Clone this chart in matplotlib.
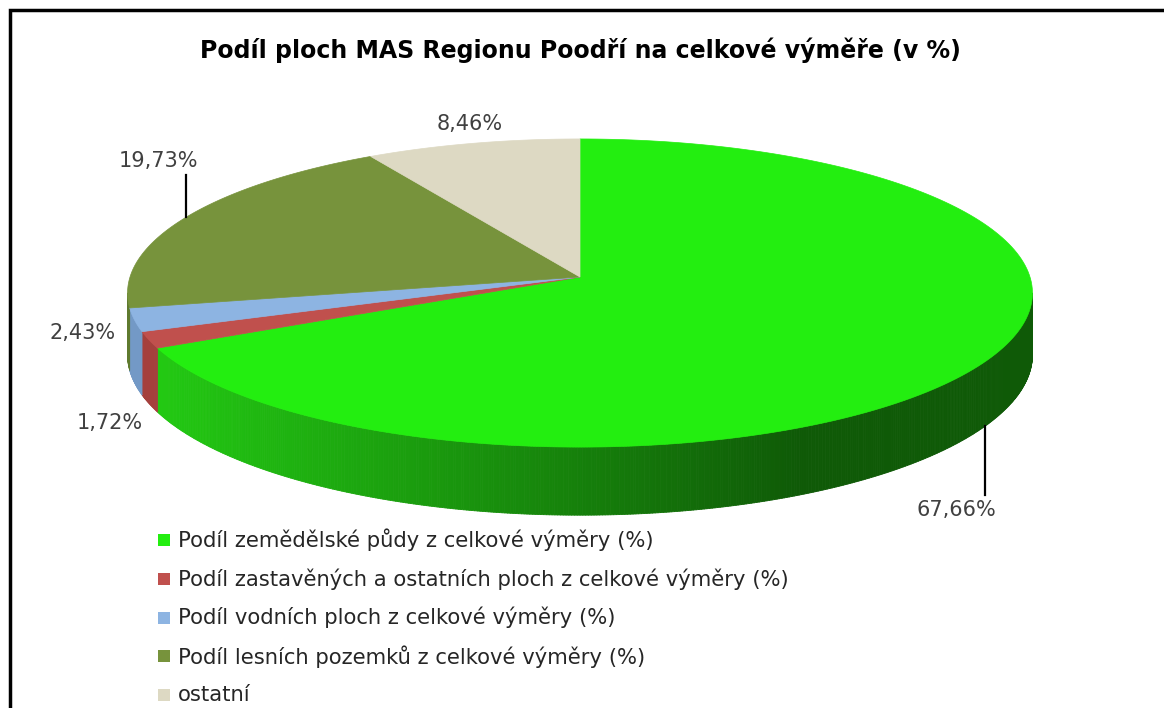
import numpy as np
import matplotlib
matplotlib.use("Agg")
import matplotlib.pyplot as plt
from matplotlib.collections import PolyCollection
from matplotlib.patches import Polygon, Rectangle

# data
kategorie = [
    "Podíl zemědělské půdy z celkové výměry (%)",
    "Podíl zastavěných a ostatních ploch z celkové výměry (%)",
    "Podíl vodních ploch z celkové výměry (%)",
    "Podíl lesních pozemků z celkové výměry (%)",
    "ostatní",
]
hodnoty = [67.66, 1.72, 2.43, 19.73, 8.46]
popisky = ["67,66%", "1,72%", "2,43%", "19,73%", "8,46%"]

barvy_horni = ["#23EE10", "#C0504D", "#8DB4E2", "#77933C", "#DDD9C3"]
barvy_bok = ["#23EE10", "#A5403D", "#7399C6", "#5F7A2E", "#C4BFA5"]

# layout (pixel space of the 1164x708 picture)
W, H = 1164, 708
CX, CY = 580, 277          # apex of the pie
RX, RY = 450, 152.4        # semi axes of the top face
PERSP = 0.104              # perspective foreshortening
HLOUBKA = 61               # thickness of the pie

pozice_popisku = [(956, 510), (110, 423), (83, 333), (158, 161), (470, 124)]
vodici_cara = [True, False, False, True, False]


def bod(t, dolni=False):
    d = 1 + PERSP * np.sin(t)
    x = CX + RX * np.cos(t) / d
    y = CY - RY * np.sin(t) / d
    if dolni:
        y = y + HLOUBKA / d
    return x, y


def mix(c1, c2, f):
    a = np.array(matplotlib.colors.to_rgb(c1))
    b = np.array(matplotlib.colors.to_rgb(c2))
    return tuple(a + (b - a) * f)


fig = plt.figure(figsize=(W / 100, H / 100), dpi=100)
ax = fig.add_axes([0, 0, 1, 1])
ax.set_xlim(0, W)
ax.set_ylim(H, 0)
ax.axis("off")

# frame of the chart area (cut off on the right and bottom)
ax.plot([10, 10, W + 5], [H + 5, 10, 10], color="black", lw=2.5, solid_joinstyle="miter")

# angles of the wedges, clockwise from 12 o'clock
podily = np.array(hodnoty) / np.sum(hodnoty)
konce = np.pi / 2 - 2 * np.pi * np.cumsum(podily)
zacatky = np.concatenate([[np.pi / 2], konce[:-1]])

# visible front wall between the two silhouette angles
t_lev = np.pi + np.arcsin(PERSP)
t_prav = 2 * np.pi - np.arcsin(PERSP)

polys, cols = [], []
for i in range(len(hodnoty)):
    a0 = zacatky[i] % (2 * np.pi)
    a1 = konce[i] % (2 * np.pi)
    lo, hi = a1, a0
    if hi <= lo:
        hi += 2 * np.pi
    for off in (0, 2 * np.pi, -2 * np.pi):
        s = max(lo + off, t_lev)
        e = min(hi + off, t_prav)
        if e <= s:
            continue
        ts = np.linspace(s, e, max(int((e - s) * 180), 2))
        for k in range(len(ts) - 1):
            x0, y0 = bod(ts[k])
            x1, y1 = bod(ts[k + 1])
            x2, y2 = bod(ts[k + 1], True)
            x3, y3 = bod(ts[k], True)
            polys.append([(x0, y0), (x1, y1), (x2, y2), (x3, y3)])
            xm = (x0 + x1) / 2
            if i == 0:
                f = np.clip((xm - 160) / 640, 0, 1)
                cols.append(mix("#22C912", "#0F5A07", f))
            else:
                cols.append(barvy_bok[i])

ax.add_collection(PolyCollection(polys, facecolors=cols, edgecolors=cols, linewidths=0.6))

# top face
for i in range(len(hodnoty)):
    ts = np.linspace(zacatky[i], konce[i], 200)
    pts = [(CX, CY)] + [bod(t) for t in ts]
    ax.add_patch(Polygon(pts, closed=True, facecolor=barvy_horni[i],
                         edgecolor=barvy_horni[i], lw=0.5))

# data labels
for i in range(len(hodnoty)):
    tx, ty = pozice_popisku[i]
    ax.text(tx, ty, popisky[i], ha="center", va="center", fontsize=15,
            color="#404040", family="DejaVu Sans")
    if vodici_cara[i]:
        tm = (zacatky[i] + konce[i]) / 2
        mx, my = bod(tm, np.sin(tm) < 0)
        ky = ty - 15 if ty > my else ty + 14
        ax.plot([mx, mx], [my, ky], color="black", lw=1.6)

# title
ax.text(580, 50, "Podíl ploch MAS Regionu Poodří na celkové výměře (v %)",
        ha="center", va="center", fontsize=17, fontweight="bold",
        family="DejaVu Sans", color="black")

# legend
for i, nazev in enumerate(kategorie):
    y = 540 + i * 38.8
    ax.add_patch(Rectangle((158, y - 6), 12, 12, facecolor=barvy_horni[i], edgecolor="none"))
    ax.text(178, y, nazev, ha="left", va="center", fontsize=15.2,
            family="DejaVu Sans", color="#262626")

fig.savefig("out.png", dpi=100)
